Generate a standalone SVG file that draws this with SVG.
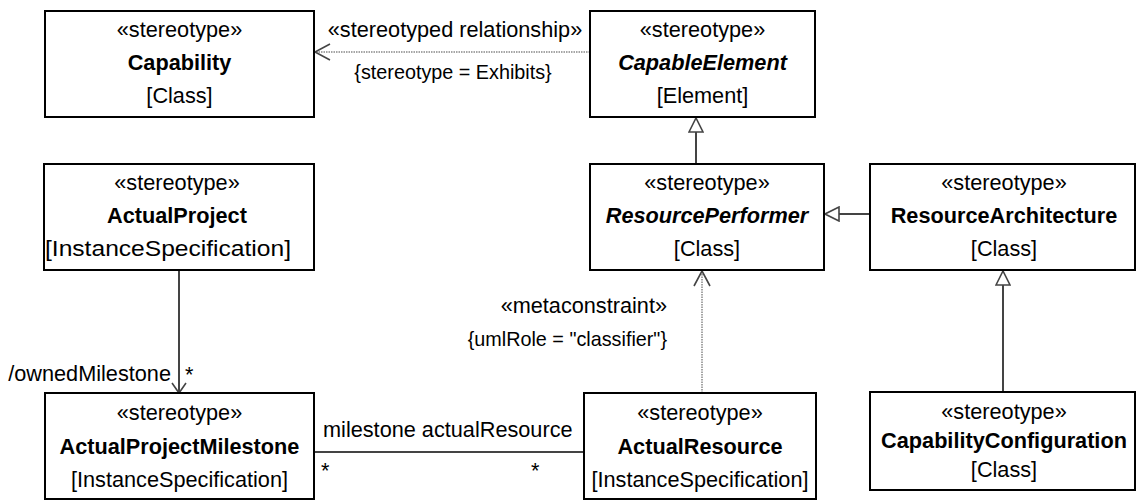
<svg xmlns="http://www.w3.org/2000/svg" width="1136" height="501" viewBox="0 0 1136 501">
<style>
text{font-family:"Liberation Sans",Arial,sans-serif;font-size:21.7px;fill:#000}
.c{text-anchor:middle}
.e{text-anchor:end}
.b{font-weight:bold}
.bi{font-weight:bold;font-style:italic}
.s{font-size:19.8px}
.box{fill:#fff;stroke:#000;stroke-width:2}
.solid{stroke:#444;stroke-width:2;fill:none}
.dot{stroke:#888;stroke-width:1.5;stroke-dasharray:1.5,1;fill:none}
</style>
<defs>
<marker id="tri" markerUnits="userSpaceOnUse" markerWidth="16" markerHeight="16" refX="14" refY="7" orient="auto" viewBox="-1 -1 16 16">
<path d="M0,0 L14,7 L0,14 Z" fill="#fff" stroke="#444" stroke-width="1.6"/>
</marker>
<marker id="open" markerUnits="userSpaceOnUse" markerWidth="18" markerHeight="18" refX="15" refY="8" orient="auto" viewBox="-1 -1 18 18">
<path d="M0,0 L15,8 L0,16" fill="none" stroke="#444" stroke-width="1.6"/>
</marker>
<marker id="openS" markerUnits="userSpaceOnUse" markerWidth="14" markerHeight="16" refX="10" refY="7" orient="auto" viewBox="-1 -1 14 16">
<path d="M0,0 L10,7 L0,14" fill="none" stroke="#444" stroke-width="1.6"/>
</marker>
</defs>
<g id="connectors">
<line class="dot" x1="590" y1="52" x2="315" y2="52" marker-end="url(#open)"/>
<line class="solid" x1="696" y1="164" x2="696" y2="118" marker-end="url(#tri)"/>
<line class="solid" x1="870" y1="214" x2="825" y2="214" marker-end="url(#tri)"/>
<line class="solid" x1="1003" y1="392" x2="1003" y2="271" marker-end="url(#tri)"/>
<line class="dot" x1="702" y1="393" x2="702" y2="271" marker-end="url(#open)"/>
<line class="solid" x1="179" y1="270" x2="179" y2="393" marker-end="url(#openS)"/>
<line class="solid" x1="314" y1="452" x2="584" y2="452"/>
<text class="c" x="455" y="37">«stereotyped relationship»</text>
<text class="c s" x="453" y="79">{stereotype = Exhibits}</text>
<text class="e" x="667" y="313">«metaconstraint»</text>
<text class="e s" x="667" y="346">{umlRole = "classifier"}</text>
<text class="e" x="171" y="381">/ownedMilestone</text>
<text x="185" y="382">*</text>
<text x="323" y="437">milestone actualResource</text>
<text x="321" y="478">*</text>
<text x="531" y="478">*</text>
</g>
<g id="Capability">
<rect class="box" x="45" y="11" width="269" height="106"/>
<text class="c" x="179.5" y="37">«stereotype»</text>
<text class="c b" x="179.5" y="70">Capability</text>
<text class="c" x="179.5" y="103">[Class]</text>
</g>
<g id="CapableElement">
<rect class="box" x="590" y="11" width="225" height="106"/>
<text class="c" x="702.5" y="37">«stereotype»</text>
<text class="c bi" x="702.5" y="70">CapableElement</text>
<text class="c" x="702.5" y="103">[Element]</text>
</g>
<g id="ActualProject">
<rect class="box" x="44" y="164" width="270" height="106"/>
<text class="c" x="177" y="190">«stereotype»</text>
<text class="c b" x="177" y="223">ActualProject</text>
<text x="45" y="256" textLength="246" lengthAdjust="spacingAndGlyphs">[InstanceSpecification]</text>
</g>
<g id="ResourcePerformer">
<rect class="box" x="590" y="164" width="234" height="106"/>
<text class="c" x="707" y="190">«stereotype»</text>
<text class="c bi" x="707" y="223">ResourcePerformer</text>
<text class="c" x="707" y="256">[Class]</text>
</g>
<g id="ResourceArchitecture">
<rect class="box" x="870" y="164" width="265" height="106"/>
<text class="c" x="1004" y="190">«stereotype»</text>
<text class="c b" x="1004" y="223">ResourceArchitecture</text>
<text class="c" x="1004" y="256">[Class]</text>
</g>
<g id="ActualProjectMilestone">
<rect class="box" x="45" y="393" width="269" height="106"/>
<text class="c" x="179.5" y="420">«stereotype»</text>
<text class="c b" x="179.5" y="454">ActualProjectMilestone</text>
<text class="c" x="179.5" y="487">[InstanceSpecification]</text>
</g>
<g id="ActualResource">
<rect class="box" x="584" y="393" width="232" height="106"/>
<text class="c" x="700" y="420">«stereotype»</text>
<text class="c b" x="700" y="454">ActualResource</text>
<text class="c" x="700" y="487">[InstanceSpecification]</text>
</g>
<g id="CapabilityConfiguration">
<rect class="box" x="870" y="392" width="265" height="98"/>
<text class="c" x="1004" y="419">«stereotype»</text>
<text class="c b" x="1004" y="448">CapabilityConfiguration</text>
<text class="c" x="1004" y="477">[Class]</text>
</g>
</svg>
